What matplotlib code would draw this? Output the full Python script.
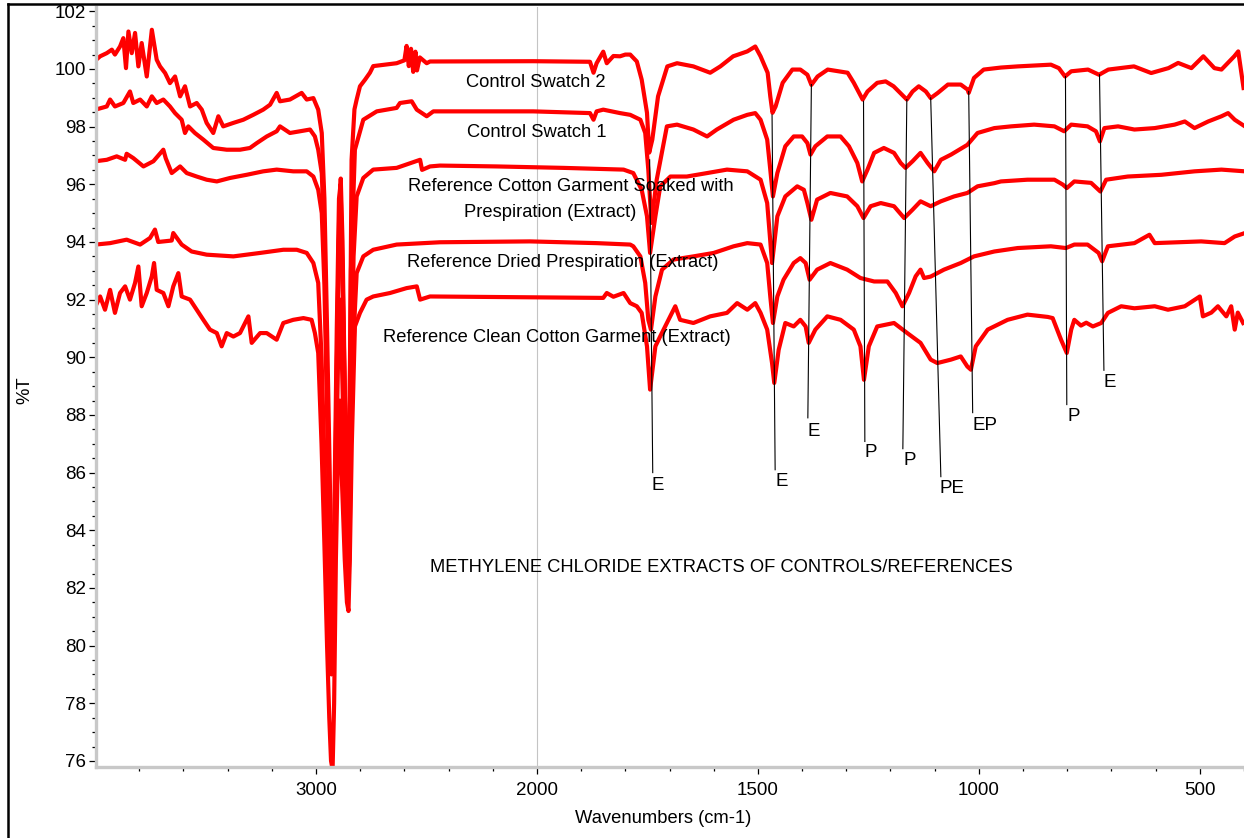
import numpy as np
import matplotlib
matplotlib.use("Agg")
import matplotlib.pyplot as plt
from matplotlib.lines import Line2D
from matplotlib.ticker import FixedLocator, NullFormatter

plt.rcParams['font.family'] = ['Liberation Sans', 'DejaVu Sans']

# ---- spectra (wavenumber cm-1, %T) ----
swatch2_w = [3998, 3977, 3947, 3924, 3910, 3887, 3872, 3860, 3849, 3834, 3819, 3804, 3789, 3766, 3743,
             3721, 3706, 3683, 3661, 3638, 3615, 3593, 3570, 3540, 3517, 3495, 3465, 3442, 3420, 3374,
             3329, 3284, 3239, 3208, 3178, 3163, 3118, 3065, 3042, 3012, 2990, 2974,
             2962, 2950, 2938, 2928, 2922, 2914, 2905, 2895, 2888, 2880, 2870, 2860, 2853, 2846, 2839,
             2826, 2816, 2801, 2778, 2756, 2741, 2635, 2600, 2590, 2580, 2570, 2560, 2550, 2543, 2530,
             2499, 2484, 2017, 1880, 1872, 1865, 1850, 1842, 1827, 1812, 1800, 1789, 1774, 1763, 1751,
             1746, 1739, 1726, 1705, 1683, 1646, 1608, 1585, 1556, 1524, 1506, 1494, 1478, 1472, 1467,
             1460, 1444, 1422, 1404, 1388, 1379, 1365, 1342, 1297, 1283, 1263, 1252, 1230, 1211, 1193,
             1163, 1150, 1136, 1120, 1109, 1093, 1070, 1041, 1025, 1023, 1011, 989, 950, 912, 837,
             819, 805, 791, 753, 728, 707, 649, 610, 571, 549, 519, 492, 467, 451, 422, 413, 401]
swatch2_t = [100.30, 100.44, 100.55, 100.67, 100.50, 100.78, 101.07, 100.03, 101.30, 100.55, 101.25, 100.09, 100.90, 99.74, 101.36,
             100.32, 100.09, 99.86, 99.51, 99.74, 99.05, 99.40, 98.70, 98.82, 98.59, 98.13, 97.78, 98.36, 98.01, 98.13,
             98.24, 98.41, 98.59, 98.76, 99.17, 98.88, 98.94, 99.17, 98.94, 98.99, 98.59, 97.78,
             95.5, 91.0, 86.0, 81.0, 80.0, 84.0, 90.0, 95.0, 96.2, 94.0, 89.0, 85.0, 84.0, 90.0, 96.85,
             98.6, 98.94, 99.4, 99.63, 99.87, 100.1, 100.2, 100.3, 100.8, 100.1, 100.7, 99.9, 100.6, 99.95, 100.4,
             100.2, 100.26, 100.27, 100.25, 99.87, 100.2, 100.6, 100.2, 100.45, 100.44, 100.5, 100.5, 100.26, 99.63, 98.48,
             97.1, 97.55, 99.05, 100.09, 100.2, 100.09, 99.87, 100.09, 100.44, 100.61, 100.78, 100.44, 99.87, 99.05, 98.48,
             98.70, 99.52, 99.98, 99.98, 99.80, 99.45, 99.74, 99.98, 99.87, 99.52, 98.94, 99.22, 99.52, 99.57, 99.40,
             98.94, 99.22, 99.40, 99.22, 98.99, 99.17, 99.46, 99.46, 99.28, 99.17, 99.69, 99.98, 100.05, 100.09, 100.15,
             100.03, 99.74, 99.92, 99.98, 99.80, 99.98, 100.09, 99.86, 100.03, 100.21, 100.03, 100.44, 100.03, 99.98, 100.44, 100.61, 99.34]

swatch1_w = [3998, 3947, 3932, 3910, 3872, 3842, 3827, 3796, 3766, 3743, 3721, 3691, 3661, 3638, 3608,
             3593, 3578, 3548, 3510, 3465, 3404, 3344, 3299, 3268, 3223, 3178, 3163, 3118, 3072, 3027,
             3005, 2990, 2974, 2962, 2950, 2938, 2926, 2918, 2906, 2896, 2889, 2880, 2868, 2856, 2850,
             2842, 2824, 2786, 2725, 2635, 2620, 2567, 2544, 2499, 2469, 2017, 1880, 1872, 1865, 1850,
             1812, 1789, 1766, 1755, 1748, 1741, 1729, 1706, 1683, 1646, 1615, 1593, 1555, 1524, 1506,
             1494, 1479, 1472, 1466, 1456, 1438, 1419, 1400, 1388, 1381, 1370, 1343, 1313, 1294, 1275,
             1264, 1252, 1237, 1215, 1192, 1177, 1166, 1150, 1132, 1116, 1101, 1086, 1063, 1026, 1003,
             965, 927, 875, 829, 807, 791, 754, 735, 726, 716, 685, 648, 602, 557, 534, 512, 481,
             451, 436, 421, 398]
swatch1_t = [98.59, 98.70, 98.94, 98.70, 98.82, 99.22, 98.82, 98.94, 98.70, 99.05, 98.82, 98.94, 98.70, 98.47, 98.24,
             97.78, 98.01, 97.78, 97.55, 97.26, 97.20, 97.20, 97.26, 97.43, 97.66, 97.84, 98.01, 97.78, 97.84, 97.90,
             97.66, 97.20, 96.39, 94.0, 89.0, 84.5, 81.5, 84.0, 91.0, 95.5, 96.0, 93.0, 88.0, 84.5, 86.0,
             93.0, 97.2, 98.24, 98.53, 98.65, 98.82, 98.88, 98.59, 98.36, 98.53, 98.53, 98.47, 98.24, 98.53, 98.59,
             98.47, 98.41, 98.24, 97.78, 96.5, 94.66, 96.16, 98.01, 98.07, 97.90, 97.66, 97.90, 98.24, 98.41, 98.47,
             98.24, 97.55, 96.51, 95.58, 96.39, 97.32, 97.66, 97.66, 97.43, 97.03, 97.32, 97.66, 97.66, 97.32, 96.74,
             96.10, 96.51, 97.09, 97.26, 97.09, 96.74, 96.57, 96.80, 97.09, 96.74, 96.45, 96.85, 97.03, 97.37, 97.78,
             97.95, 98.01, 98.07, 98.01, 97.84, 98.07, 98.01, 97.84, 97.49, 97.95, 98.01, 97.90, 97.95, 98.07, 98.18, 97.95, 98.18,
             98.36, 98.47, 98.24, 98.01]

soaked_w = [3998, 3947, 3902, 3864, 3857, 3827, 3781, 3736, 3691, 3680, 3653, 3615, 3585, 3540, 3495,
            3449, 3389, 3314, 3239, 3178, 3103, 3042, 3012, 2990, 2974, 2962, 2950, 2938, 2927, 2918,
            2907, 2897, 2889, 2881, 2869, 2857, 2851, 2843, 2830, 2816, 2786, 2741, 2635, 2529, 2520,
            2484, 2439, 2182, 1940, 1804, 1782, 1763, 1751, 1744, 1732, 1721, 1698, 1661, 1615, 1570,
            1524, 1494, 1479, 1468, 1456, 1438, 1411, 1396, 1388, 1379, 1366, 1336, 1298, 1275, 1261,
            1245, 1222, 1192, 1169, 1150, 1132, 1109, 1086, 1056, 1026, 1003, 965, 950, 890, 829,
            810, 801, 784, 746, 725, 712, 663, 587, 512, 451, 398]
soaked_t = [96.80, 96.85, 96.97, 96.85, 97.06, 96.91, 96.62, 96.80, 97.20, 96.90, 96.39, 96.62, 96.39, 96.27, 96.16,
            96.10, 96.22, 96.33, 96.45, 96.51, 96.45, 96.45, 96.27, 95.81, 95.0, 92.5, 88.0, 83.5, 80.5, 83.0,
            89.0, 94.0, 95.5, 93.0, 88.0, 83.0, 82.5, 88.0, 93.5, 95.58, 96.22, 96.51, 96.57, 96.85, 96.5,
            96.62, 96.65, 96.62, 96.57, 96.51, 96.39, 95.81, 94.89, 93.62, 94.89, 95.93, 96.27, 96.27, 96.39, 96.51,
            96.45, 96.16, 95.35, 93.27, 94.89, 95.58, 95.93, 95.81, 95.35, 94.77, 95.47, 95.70, 95.58, 95.24, 94.83,
            95.24, 95.35, 95.24, 94.83, 95.12, 95.41, 95.24, 95.41, 95.58, 95.70, 95.93, 96.04, 96.10, 96.16, 96.16,
            95.99, 95.87, 96.10, 96.05, 95.75, 96.16, 96.27, 96.33, 96.45, 96.51, 96.45]

dried_w = [3998, 3932, 3857, 3796, 3751, 3729, 3714, 3653, 3646, 3608, 3563, 3495, 3374, 3253, 3148,
           3087, 3042, 3012, 2990, 2975, 2962, 2950, 2940, 2930, 2922, 2912, 2900, 2890, 2880, 2868,
           2856, 2849, 2840, 2825, 2816, 2786, 2741, 2635, 2439, 2032, 1865, 1789, 1782, 1766, 1755,
           1748, 1742, 1732, 1717, 1691, 1646, 1600, 1555, 1524, 1494, 1479, 1472, 1466, 1456, 1442,
           1419, 1404, 1392, 1383, 1366, 1336, 1298, 1268, 1237, 1207, 1188, 1173, 1158, 1143, 1132,
           1124, 1109, 1079, 1041, 1011, 965, 912, 837, 803, 784, 754, 729, 721, 708, 648, 614, 602,
           497, 444, 421, 398]
dried_t = [93.91, 93.96, 94.08, 93.91, 94.14, 94.43, 94.00, 94.05, 94.31, 93.91, 93.67, 93.56, 93.50, 93.62, 93.73,
           93.73, 93.62, 93.27, 92.58, 90.0, 86.5, 83.0, 80.5, 79.0, 80.5, 85.0, 90.0, 92.0, 89.0, 85.0,
           82.0, 83.0, 88.0, 91.5, 92.92, 93.50, 93.73, 93.91, 93.99, 94.02, 93.96, 93.91, 93.85, 93.50, 92.58,
           91.30, 90.96, 92.11, 93.04, 93.39, 93.50, 93.62, 93.85, 93.96, 93.91, 93.27, 92.11, 91.19, 92.11, 92.69,
           93.27, 93.44, 93.27, 92.69, 93.04, 93.27, 93.04, 92.75, 92.63, 92.63, 92.23, 91.77, 92.23, 92.81, 93.04,
           92.75, 92.80, 93.04, 93.27, 93.50, 93.67, 93.79, 93.85, 93.79, 93.91, 93.91, 93.62, 93.33, 93.85, 93.96, 94.25, 93.96,
           94.02, 93.96, 94.19, 94.31]

clean_w = [3998, 3977, 3955, 3932, 3910, 3887, 3864, 3842, 3819, 3804, 3789, 3766, 3743, 3733, 3721,
           3691, 3668, 3646, 3623, 3608, 3570, 3540, 3510, 3480, 3449, 3427, 3404, 3374, 3344, 3306,
           3291, 3253, 3223, 3178, 3148, 3103, 3057, 3020, 3005, 2990, 2975, 2962, 2950, 2940, 2932,
           2925, 2918, 2910, 2900, 2892, 2884, 2870, 2860, 2853, 2847, 2838, 2824, 2801, 2771, 2741,
           2665, 2590, 2544, 2529, 2484, 1850, 1842, 1827, 1804, 1789, 1774, 1763, 1751, 1744, 1732,
           1721, 1706, 1687, 1676, 1646, 1608, 1570, 1547, 1524, 1506, 1494, 1479, 1468, 1463, 1453,
           1438, 1419, 1404, 1392, 1385, 1370, 1343, 1313, 1283, 1268, 1260, 1249, 1230, 1192, 1162,
           1132, 1109, 1094, 1063, 1041, 1026, 1018, 1007, 980, 935, 905, 890, 844, 833, 814,
           801, 791, 784, 769, 757, 742, 723, 708, 678, 648, 602, 572, 534, 500, 493, 474,
           459, 440, 429, 421, 414, 402]
clean_t = [91.77, 92.11, 91.65, 92.34, 91.54, 92.23, 92.46, 92.00, 92.58, 93.15, 91.77, 92.23, 92.81, 93.27, 92.34,
           92.23, 91.77, 92.46, 92.92, 92.11, 92.00, 91.65, 91.30, 90.96, 90.84, 90.38, 90.84, 90.72, 90.84, 91.42,
           90.50, 90.84, 90.84, 90.61, 91.19, 91.30, 91.36, 91.30, 90.84, 90.15, 87.0, 83.5, 80.0, 77.5, 76.0,
           75.7, 78.0, 83.0, 87.0, 88.5, 86.0, 83.0, 81.5, 81.2, 83.0, 87.0, 91.07, 91.54, 92.00, 92.11,
           92.23, 92.40, 92.46, 92.00, 92.11, 92.06, 92.23, 92.10, 92.23, 91.88, 91.77, 91.54, 90.38, 88.88, 90.38,
           90.73, 91.19, 91.77, 91.30, 91.19, 91.42, 91.54, 91.88, 91.65, 91.88, 91.54, 90.96, 89.80, 89.11, 90.26,
           91.19, 91.07, 91.30, 91.07, 90.50, 90.96, 91.42, 91.30, 90.96, 90.38, 89.22, 90.38, 91.07, 91.19, 90.84,
           90.50, 89.92, 89.80, 89.92, 90.03, 89.68, 89.57, 90.38, 90.96, 91.30, 91.42, 91.48, 91.40, 91.36, 90.61,
           90.15, 90.96, 91.30, 91.10, 91.20, 91.07, 91.19, 91.54, 91.77, 91.70, 91.77, 91.65, 91.77, 92.11, 91.42, 91.55,
           91.77, 91.42, 91.77, 90.96, 91.55, 91.19]

# peak marker lines: (top wavenumber, top %T, bottom wavenumber, bottom %T)
peak_top_w = [1745, 1468, 1379, 1261, 1163, 1109, 1023, 804, 727]
peak_top_t = [96.85, 98.41, 99.46, 98.88, 98.94, 99.00, 99.22, 99.74, 99.80]
peak_bot_w = [1738, 1461, 1387, 1258, 1172, 1086, 1014, 801, 717]
peak_bot_t = [86.00, 86.10, 87.90, 87.08, 86.83, 85.86, 88.08, 88.36, 89.55]
peak_labels = ['E', 'E', 'E', 'P', 'P', 'PE', 'EP', 'P', 'E']
peak_label_w = [1726, 1447, 1374, 1245, 1157, 1060, 986, 786, 703]
peak_label_t = [85.54, 85.69, 87.42, 86.69, 86.41, 85.44, 87.63, 87.94, 89.12]

# curve captions
caption_text = ['Control Swatch 2', 'Control Swatch 1', 'Reference Cotton Garment Soaked with',
                'Prespiration (Extract)', 'Reference Dried Prespiration (Extract)',
                'Reference Clean Cotton Garment (Extract)',
                'METHYLENE CHLORIDE EXTRACTS OF CONTROLS/REFERENCES']
caption_w = [2005, 2001, 1924, 1971, 1941, 1956, 1582]
caption_t = [99.54, 97.80, 95.93, 95.03, 93.29, 90.67, 82.70]


# x axis: region above 2000 cm-1 is compressed by half
def fwd(w):
    w = np.asarray(w, dtype=float)
    return np.where(w > 2000, 2000 + (w - 2000) / 2.0, w)


def inv(t):
    t = np.asarray(t, dtype=float)
    return np.where(t > 2000, 2000 + (t - 2000) * 2.0, t)


W, H = 1244, 838
fig = plt.figure(figsize=(W / 100, H / 100), dpi=100)
ax = fig.add_axes([95.5 / W, (H - 766.7) / H, (W - 95.5) / W, 759.7 / H])
ax.set_xscale('function', functions=(fwd, inv))
ax.set_xlim(3998, 400)
ax.set_ylim(75.8, 102.15)

ax.axvline(2000, color='#c4c4c4', lw=0.8, zorder=0)

red = '#ff0000'
for xs, ys in [(swatch2_w, swatch2_t), (swatch1_w, swatch1_t), (soaked_w, soaked_t),
               (dried_w, dried_t), (clean_w, clean_t)]:
    ax.plot(xs, ys, color=red, lw=3.0, solid_joinstyle='round', zorder=2)

for i in range(len(peak_labels)):
    ax.plot([peak_top_w[i], peak_bot_w[i]], [peak_top_t[i], peak_bot_t[i]],
            color='black', lw=0.8, zorder=3)
    ax.text(peak_label_w[i], peak_label_t[i], peak_labels[i], fontsize=13.5,
            ha='center', va='center', zorder=4)

for s, xw, yt in zip(caption_text, caption_w, caption_t):
    ax.text(xw, yt, s, fontsize=13.2, ha='center', va='center', zorder=4)

# axes look
for side in ['top', 'right']:
    ax.spines[side].set_visible(False)
for side in ['left', 'bottom']:
    ax.spines[side].set_color('#c8c8c8')
    ax.spines[side].set_linewidth(2.4)

ax.xaxis.set_major_locator(FixedLocator([3000, 2000, 1500, 1000, 500]))
ax.set_xticklabels(['3000', '2000', '1500', '1000', '500'])
minor_x = [3800, 3600, 3400, 3200, 2800, 2600, 2400, 2200,
           1900, 1800, 1700, 1600, 1400, 1300, 1200, 1100, 900, 800, 700, 600, 400]
ax.xaxis.set_minor_locator(FixedLocator(minor_x))
ax.xaxis.set_minor_formatter(NullFormatter())

ax.yaxis.set_major_locator(FixedLocator(np.arange(76, 103, 2)))
ax.yaxis.set_minor_locator(FixedLocator(np.arange(76, 102.2, 0.5)))
ax.yaxis.set_minor_formatter(NullFormatter())

ax.tick_params(which='major', length=5, width=0.9, color='black', labelsize=13.5, pad=2)
ax.tick_params(which='minor', length=3, width=0.9, color='black')
ax.tick_params(axis='x', which='major', pad=6)

fig.text(25 / W, 1 - 390 / H, '%T', rotation=90, fontsize=13.3, ha='center', va='center')
fig.text(663 / W, 1 - 818 / H, 'Wavenumbers (cm-1)', fontsize=13.2, ha='center', va='center')

# outer frame (left and top edges visible)
fig.add_artist(Line2D([8 / W, 8 / W], [0, 1 - 4.3 / H], transform=fig.transFigure,
                      color='black', lw=1.8))
fig.add_artist(Line2D([8 / W, 1], [1 - 4.3 / H, 1 - 4.3 / H], transform=fig.transFigure,
                      color='black', lw=1.8))

fig.savefig('out.png', dpi=100)
